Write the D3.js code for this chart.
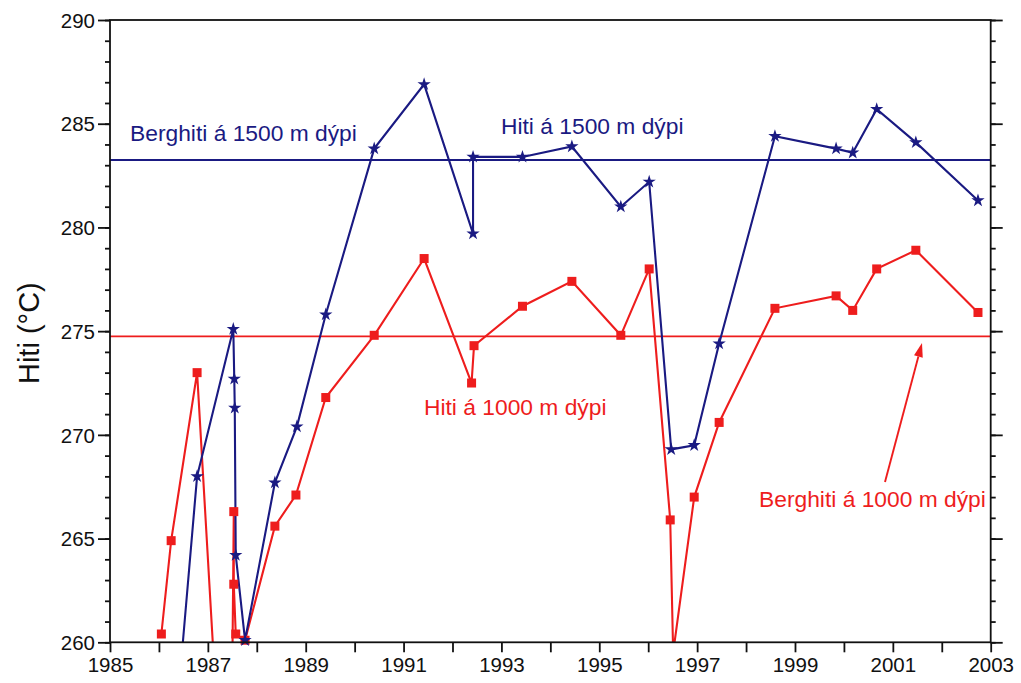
<!DOCTYPE html>
<html>
<head>
<meta charset="utf-8">
<script src="https://cdn.jsdelivr.net/npm/d3@7"></script>
<style>
  html, body { margin: 0; padding: 0; background: #fff; }
  svg { display: block; font-family: Arial, "Liberation Sans", sans-serif; }
</style>
</head>
<body>
<svg id="chart" width="1021" height="683"></svg>
<script>
// Temperature series (°C) at 1500 m and 1000 m depth, by decimal year
const blueYears = [1986.30, 1986.78, 1987.52, 1987.54, 1987.55, 1987.57, 1987.76, 1988.37, 1988.82, 1989.41,
                   1990.40, 1991.42, 1992.42, 1992.42, 1993.43, 1994.44, 1995.44, 1996.02, 1996.47, 1996.94,
                   1997.45, 1998.59, 1999.84, 2000.18, 2000.67, 2001.47, 2002.74];
const blueTemps = [254.8, 268.0, 275.1, 272.7, 271.3, 264.2, 260.1, 267.7, 270.4, 275.8,
                   283.8, 286.9, 279.7, 283.4, 283.4, 283.9, 281.0, 282.2, 269.3, 269.5,
                   274.4, 284.4, 283.8, 283.6, 285.7, 284.1, 281.3];

const redYears = [1986.05, 1986.25, 1986.78, 1987.45, 1987.53, 1987.53, 1987.57, 1987.76, 1988.37, 1988.80,
                  1989.41, 1990.40, 1991.42, 1992.39, 1992.44, 1993.43, 1994.44, 1995.44, 1996.02, 1996.45,
                  1996.51, 1996.94, 1997.45, 1998.59, 1999.84, 2000.18, 2000.67, 2001.47, 2002.74];
const redTemps = [260.4, 264.9, 273.0, 245.8, 266.3, 262.8, 260.4, 260.1, 265.6, 267.1,
                  271.8, 274.8, 278.5, 272.5, 274.3, 276.2, 277.4, 274.8, 278.0, 265.9,
                  259.5, 267.0, 270.6, 276.1, 276.7, 276.0, 278.0, 278.9, 275.9];

// Formation temperature reference levels
const blueRef = 283.25;
const redRef = 274.75;

// Axis ticks
const xTickLabels = [1985, 1987, 1989, 1991, 1993, 1995, 1997, 1999, 2001, 2003];
const yTickLabels = [260, 265, 270, 275, 280, 285, 290];

const BLUE = "#1a1a82";
const RED = "#ee1d1d";

const svg = d3.select("#chart");
const m = { left: 110, right: 990.7, top: 20, bottom: 642.3 };

const x = d3.scaleLinear().domain([1985, 2003]).range([m.left, m.right]);
const y = d3.scaleLinear().domain([260, 290]).range([m.bottom, m.top]);

svg.append("defs").append("clipPath").attr("id", "plotClip")
  .append("rect")
  .attr("x", m.left).attr("y", m.top)
  .attr("width", m.right - m.left).attr("height", m.bottom - m.top);

// Reference lines
const refs = svg.append("g");
[[blueRef, BLUE], [redRef, RED]].forEach(([v, c]) => {
  refs.append("line")
    .attr("x1", x(1985)).attr("x2", x(2003))
    .attr("y1", y(v)).attr("y2", y(v))
    .attr("stroke", c).attr("stroke-width", 1.8);
});

// Series lines
const line = d3.line().x(d => x(d[0])).y(d => y(d[1]));
const redData = redYears.map((t, i) => [t, redTemps[i]]);
const blueData = blueYears.map((t, i) => [t, blueTemps[i]]);

const plot = svg.append("g").attr("clip-path", "url(#plotClip)");
plot.append("path").datum(redData).attr("d", line)
  .attr("fill", "none").attr("stroke", RED).attr("stroke-width", 2.1).attr("stroke-linejoin", "miter");
plot.append("path").datum(blueData).attr("d", line)
  .attr("fill", "none").attr("stroke", BLUE).attr("stroke-width", 2.1).attr("stroke-linejoin", "miter");

// Markers (only values inside the temperature range are shown)
const sq = 9;
svg.append("g").selectAll("rect")
  .data(redData.filter(d => d[1] >= 260))
  .join("rect")
  .attr("x", d => x(d[0]) - sq / 2).attr("y", d => y(d[1]) - sq / 2)
  .attr("width", sq).attr("height", sq)
  .attr("fill", RED);

const star = d3.symbol().type(d3.symbolStar).size(55);
svg.append("g").selectAll("path")
  .data(blueData.filter(d => d[1] >= 260))
  .join("path")
  .attr("d", star)
  .attr("transform", d => `translate(${x(d[0])},${y(d[1])})`)
  .attr("fill", BLUE);

// Frame
const frame = svg.append("g").attr("stroke", "#111").attr("stroke-width", 1.8).attr("fill", "none");
frame.append("rect")
  .attr("x", m.left).attr("y", m.top)
  .attr("width", m.right - m.left).attr("height", m.bottom - m.top);

// Y axes: left (ticks outward to the left) and right (ticks outward to the right)
const yMinor = d3.range(260, 291, 1);
const yLeft = svg.append("g").attr("transform", `translate(${m.left},0)`)
  .call(d3.axisLeft(y).tickValues(yMinor).tickSize(5).tickFormat(""));
const yLeftMajor = svg.append("g").attr("transform", `translate(${m.left},0)`)
  .call(d3.axisLeft(y).tickValues(yTickLabels).tickSize(12).tickPadding(3).tickFormat(d3.format("d")));
const yRight = svg.append("g").attr("transform", `translate(${m.right},0)`)
  .call(d3.axisRight(y).tickValues(yMinor).tickSize(5).tickFormat(""));
const yRightMajor = svg.append("g").attr("transform", `translate(${m.right},0)`)
  .call(d3.axisRight(y).tickValues(yTickLabels).tickSize(12).tickFormat(""));

// X axis: a tick every year, labels on odd years
const xAxis = svg.append("g").attr("transform", `translate(0,${m.bottom})`)
  .call(d3.axisBottom(x).tickValues(d3.range(1985, 2004, 1)).tickSize(10).tickPadding(4)
    .tickFormat(d => xTickLabels.includes(d) ? String(d) : ""));

[yLeft, yLeftMajor, yRight, yRightMajor, xAxis].forEach(g => {
  g.select(".domain").remove();
  g.selectAll(".tick line").attr("stroke", "#111").attr("stroke-width", 1.8);
  g.selectAll(".tick text").attr("fill", "#111").attr("font-size", 20.5)
    .attr("font-family", "Arial, 'Liberation Sans', sans-serif");
});
yLeftMajor.selectAll(".tick text").attr("dy", "0.35em");
xAxis.selectAll(".tick text").attr("dy", "0.75em");

// Y axis title
svg.append("text")
  .attr("transform", `translate(39,${(m.top + m.bottom) / 2 + 2}) rotate(-90)`)
  .attr("text-anchor", "middle")
  .attr("font-size", 29).attr("fill", "#111")
  .text("Hiti (°C)");

// Annotations
const notes = [
  { text: "Berghiti á 1500 m dýpi", x: 130, y: 141, c: BLUE },
  { text: "Hiti á 1500 m dýpi", x: 501, y: 134, c: BLUE },
  { text: "Hiti á 1000 m dýpi", x: 424, y: 415, c: RED },
  { text: "Berghiti á 1000 m dýpi", x: 759, y: 507, c: RED }
];
svg.append("g").selectAll("text").data(notes).join("text")
  .attr("x", d => d.x).attr("y", d => d.y)
  .attr("font-size", 22.8).attr("fill", d => d.c)
  .text(d => d.text);

// Arrow pointing at the 1000 m formation temperature line
const ax0 = 885, ay0 = 482, ax1 = 922, ay1 = 343;
const ang = Math.atan2(ay1 - ay0, ax1 - ax0);
const hl = 14, hw = 4.5;
const bx = ax1 - hl * Math.cos(ang), by = ay1 - hl * Math.sin(ang);
svg.append("line")
  .attr("x1", ax0).attr("y1", ay0).attr("x2", bx).attr("y2", by)
  .attr("stroke", RED).attr("stroke-width", 1.9);
svg.append("path")
  .attr("d", `M${ax1},${ay1} L${bx + hw * Math.sin(ang)},${by - hw * Math.cos(ang)} L${bx - hw * Math.sin(ang)},${by + hw * Math.cos(ang)} Z`)
  .attr("fill", RED);
</script>
</body>
</html>
